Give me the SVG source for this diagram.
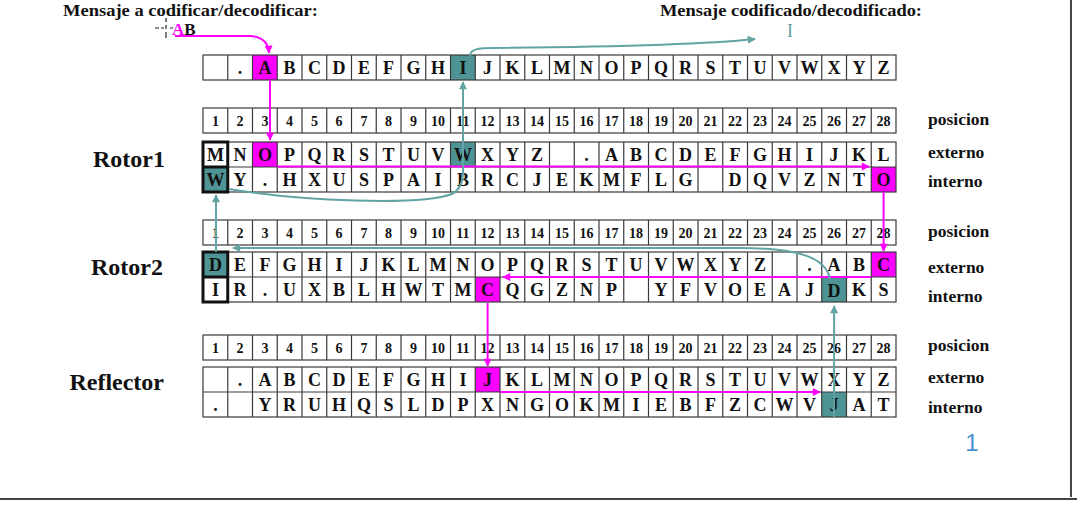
<svg xmlns="http://www.w3.org/2000/svg" width="1077" height="508" viewBox="0 0 1077 508">
<style>
.c{font-family:"Liberation Serif","Times New Roman",serif;font-weight:bold;font-size:18px;text-anchor:middle;fill:#111}
.n{font-family:"Liberation Serif","Times New Roman",serif;font-weight:bold;font-size:14px;text-anchor:middle;fill:#111}
.lab{font-family:"Liberation Serif","Times New Roman",serif;font-weight:bold;font-size:17.5px;fill:#111}
.ttl{font-family:"Liberation Serif","Times New Roman",serif;font-weight:bold;font-size:17px;fill:#111}
.big{font-family:"Liberation Serif","Times New Roman",serif;font-weight:bold;font-size:24px;fill:#111;text-anchor:end}
.grid{fill:none;stroke:#3a3a3a;stroke-width:1.2}
.thick{fill:none;stroke:#111;stroke-width:3}
.mg{fill:#ff00ff}
.tl{fill:#4f9494}
.cm{fill:none;stroke:#ff00ff;stroke-width:2;marker-end:url(#am)}
.ct{fill:none;stroke:#62a3a3;stroke-width:2;marker-end:url(#at)}
</style>
<defs>
<marker id="am" viewBox="0 0 10 10" refX="9" refY="5" markerWidth="9" markerHeight="8" markerUnits="userSpaceOnUse" orient="auto"><path d="M0 0L10 5L0 10z" fill="#ff00ff"/></marker>
<marker id="at" viewBox="0 0 10 10" refX="9" refY="5" markerWidth="9" markerHeight="8" markerUnits="userSpaceOnUse" orient="auto"><path d="M0 0L10 5L0 10z" fill="#62a3a3"/></marker>
</defs>
<rect width="1077" height="508" fill="#fff"/>

<g id="titles">
<text class="ttl" x="63" y="15.5" textLength="255" lengthAdjust="spacingAndGlyphs">Mensaje a codificar/decodificar:</text>
<text class="ttl" x="172" y="34.5" font-size="16"><tspan fill="#ff00ff">A</tspan>B</text>
<path d="M166 18v4M166 25v4M166 32v6M155 28h4M161 28h3M170 28h3" stroke="#222" stroke-width="1.2" fill="none"/>
<text class="ttl" x="660" y="15.5" textLength="262" lengthAdjust="spacingAndGlyphs">Mensaje codificado/decodificado:</text>
<text x="787" y="37" font-family="Liberation Serif, serif" font-size="18" fill="#62a3a3">I</text>
</g>

<g id="alphabet" transform="translate(0,55)">
<rect class="mg" x="252.5" y="0" width="24.75" height="25"/>
<rect class="tl" x="450.5" y="0" width="24.75" height="25"/>
<rect class="grid" x="203" y="0" width="693" height="25"/>
<path class="grid" d="M227.75 0v25m24.75-25v25m24.75-25v25m24.75-25v25m24.75-25v25m24.75-25v25m24.75-25v25m24.75-25v25m24.75-25v25m24.75-25v25m24.75-25v25m24.75-25v25m24.75-25v25m24.75-25v25m24.75-25v25m24.75-25v25m24.75-25v25m24.75-25v25m24.75-25v25m24.75-25v25m24.75-25v25m24.75-25v25m24.75-25v25m24.75-25v25m24.75-25v25m24.75-25v25m24.75-25v25"/>
<text class="c" x="240.1" y="19">.</text><text class="c" x="264.9" y="19">A</text><text class="c" x="289.6" y="19">B</text><text class="c" x="314.4" y="19">C</text><text class="c" x="339.1" y="19">D</text><text class="c" x="363.9" y="19">E</text><text class="c" x="388.6" y="19">F</text><text class="c" x="413.4" y="19">G</text><text class="c" x="438.1" y="19">H</text><text class="c" x="462.9" y="19">I</text><text class="c" x="487.6" y="19">J</text><text class="c" x="512.4" y="19">K</text><text class="c" x="537.1" y="19">L</text><text class="c" x="561.9" y="19">M</text><text class="c" x="586.6" y="19">N</text><text class="c" x="611.4" y="19">O</text><text class="c" x="636.1" y="19">P</text><text class="c" x="660.9" y="19">Q</text><text class="c" x="685.6" y="19">R</text><text class="c" x="710.4" y="19">S</text><text class="c" x="735.1" y="19">T</text><text class="c" x="759.9" y="19">U</text><text class="c" x="784.6" y="19">V</text><text class="c" x="809.4" y="19">W</text><text class="c" x="834.1" y="19">X</text><text class="c" x="858.9" y="19">Y</text><text class="c" x="883.6" y="19">Z</text>
</g>

<g id="rotor1">
<text class="big" x="165" y="167">Rotor1</text>
<g transform="translate(0,108)">
<rect class="grid" x="203" y="0" width="693" height="25"/>
<path class="grid" d="M227.75 0v25m24.75-25v25m24.75-25v25m24.75-25v25m24.75-25v25m24.75-25v25m24.75-25v25m24.75-25v25m24.75-25v25m24.75-25v25m24.75-25v25m24.75-25v25m24.75-25v25m24.75-25v25m24.75-25v25m24.75-25v25m24.75-25v25m24.75-25v25m24.75-25v25m24.75-25v25m24.75-25v25m24.75-25v25m24.75-25v25m24.75-25v25m24.75-25v25m24.75-25v25m24.75-25v25"/>
<text class="n" x="215.4" y="18">1</text><text class="n" x="240.1" y="18">2</text><text class="n" x="264.9" y="18">3</text><text class="n" x="289.6" y="18">4</text><text class="n" x="314.4" y="18">5</text><text class="n" x="339.1" y="18">6</text><text class="n" x="363.9" y="18">7</text><text class="n" x="388.6" y="18">8</text><text class="n" x="413.4" y="18">9</text><text class="n" x="438.1" y="18">10</text><text class="n" x="462.9" y="18">11</text><text class="n" x="487.6" y="18">12</text><text class="n" x="512.4" y="18">13</text><text class="n" x="537.1" y="18">14</text><text class="n" x="561.9" y="18">15</text><text class="n" x="586.6" y="18">16</text><text class="n" x="611.4" y="18">17</text><text class="n" x="636.1" y="18">18</text><text class="n" x="660.9" y="18">19</text><text class="n" x="685.6" y="18">20</text><text class="n" x="710.4" y="18">21</text><text class="n" x="735.1" y="18">22</text><text class="n" x="759.9" y="18">23</text><text class="n" x="784.6" y="18">24</text><text class="n" x="809.4" y="18">25</text><text class="n" x="834.1" y="18">26</text><text class="n" x="858.9" y="18">27</text><text class="n" x="883.6" y="18">28</text>
</g>
<g transform="translate(0,142)">
<rect class="mg" x="252.5" y="0" width="24.75" height="25"/>
<rect class="tl" x="450.5" y="0" width="24.75" height="25"/>
<rect class="tl" x="203" y="25" width="24.75" height="25"/>
<rect class="mg" x="871.25" y="25" width="24.75" height="25"/>
<rect class="grid" x="203" y="0" width="693" height="50"/>
<path class="grid" d="M203 25h693M227.75 0v50m24.75-50v50m24.75-50v50m24.75-50v50m24.75-50v50m24.75-50v50m24.75-50v50m24.75-50v50m24.75-50v50m24.75-50v50m24.75-50v50m24.75-50v50m24.75-50v50m24.75-50v50m24.75-50v50m24.75-50v50m24.75-50v50m24.75-50v50m24.75-50v50m24.75-50v50m24.75-50v50m24.75-50v50m24.75-50v50m24.75-50v50m24.75-50v50m24.75-50v50m24.75-50v50"/>
<path class="thick" d="M203 0h24.75v50h-24.75zM203 25h24.75"/>
<text class="c" x="215.4" y="19">M</text><text class="c" x="240.1" y="19">N</text><text class="c" x="264.9" y="19">O</text><text class="c" x="289.6" y="19">P</text><text class="c" x="314.4" y="19">Q</text><text class="c" x="339.1" y="19">R</text><text class="c" x="363.9" y="19">S</text><text class="c" x="388.6" y="19">T</text><text class="c" x="413.4" y="19">U</text><text class="c" x="438.1" y="19">V</text><text class="c" x="462.9" y="19">W</text><text class="c" x="487.6" y="19">X</text><text class="c" x="512.4" y="19">Y</text><text class="c" x="537.1" y="19">Z</text><text class="c" x="586.6" y="19">.</text><text class="c" x="611.4" y="19">A</text><text class="c" x="636.1" y="19">B</text><text class="c" x="660.9" y="19">C</text><text class="c" x="685.6" y="19">D</text><text class="c" x="710.4" y="19">E</text><text class="c" x="735.1" y="19">F</text><text class="c" x="759.9" y="19">G</text><text class="c" x="784.6" y="19">H</text><text class="c" x="809.4" y="19">I</text><text class="c" x="834.1" y="19">J</text><text class="c" x="858.9" y="19">K</text><text class="c" x="883.6" y="19">L</text>
<text class="c" x="215.4" y="44">W</text><text class="c" x="240.1" y="44">Y</text><text class="c" x="264.9" y="44">.</text><text class="c" x="289.6" y="44">H</text><text class="c" x="314.4" y="44">X</text><text class="c" x="339.1" y="44">U</text><text class="c" x="363.9" y="44">S</text><text class="c" x="388.6" y="44">P</text><text class="c" x="413.4" y="44">A</text><text class="c" x="438.1" y="44">I</text><text class="c" x="462.9" y="44">B</text><text class="c" x="487.6" y="44">R</text><text class="c" x="512.4" y="44">C</text><text class="c" x="537.1" y="44">J</text><text class="c" x="561.9" y="44">E</text><text class="c" x="586.6" y="44">K</text><text class="c" x="611.4" y="44">M</text><text class="c" x="636.1" y="44">F</text><text class="c" x="660.9" y="44">L</text><text class="c" x="685.6" y="44">G</text><text class="c" x="735.1" y="44">D</text><text class="c" x="759.9" y="44">Q</text><text class="c" x="784.6" y="44">V</text><text class="c" x="809.4" y="44">Z</text><text class="c" x="834.1" y="44">N</text><text class="c" x="858.9" y="44">T</text><text class="c" x="883.6" y="44">O</text>
</g>
<text class="lab" x="928" y="125">posicion</text>
<text class="lab" x="928" y="158">externo</text>
<text class="lab" x="928" y="187">interno</text>
</g>

<g id="rotor2">
<text class="big" x="163" y="275">Rotor2</text>
<g transform="translate(0,220)">
<rect class="grid" x="203" y="0" width="693" height="25"/>
<path class="grid" d="M227.75 0v25m24.75-25v25m24.75-25v25m24.75-25v25m24.75-25v25m24.75-25v25m24.75-25v25m24.75-25v25m24.75-25v25m24.75-25v25m24.75-25v25m24.75-25v25m24.75-25v25m24.75-25v25m24.75-25v25m24.75-25v25m24.75-25v25m24.75-25v25m24.75-25v25m24.75-25v25m24.75-25v25m24.75-25v25m24.75-25v25m24.75-25v25m24.75-25v25m24.75-25v25m24.75-25v25"/>
<text class="n" x="215.4" y="18">1</text><text class="n" x="240.1" y="18">2</text><text class="n" x="264.9" y="18">3</text><text class="n" x="289.6" y="18">4</text><text class="n" x="314.4" y="18">5</text><text class="n" x="339.1" y="18">6</text><text class="n" x="363.9" y="18">7</text><text class="n" x="388.6" y="18">8</text><text class="n" x="413.4" y="18">9</text><text class="n" x="438.1" y="18">10</text><text class="n" x="462.9" y="18">11</text><text class="n" x="487.6" y="18">12</text><text class="n" x="512.4" y="18">13</text><text class="n" x="537.1" y="18">14</text><text class="n" x="561.9" y="18">15</text><text class="n" x="586.6" y="18">16</text><text class="n" x="611.4" y="18">17</text><text class="n" x="636.1" y="18">18</text><text class="n" x="660.9" y="18">19</text><text class="n" x="685.6" y="18">20</text><text class="n" x="710.4" y="18">21</text><text class="n" x="735.1" y="18">22</text><text class="n" x="759.9" y="18">23</text><text class="n" x="784.6" y="18">24</text><text class="n" x="809.4" y="18">25</text><text class="n" x="834.1" y="18">26</text><text class="n" x="858.9" y="18">27</text><text class="n" x="883.6" y="18">28</text>
</g>
<g transform="translate(0,252)">
<rect class="tl" x="203" y="0" width="24.75" height="25"/>
<rect class="mg" x="871.25" y="0" width="24.75" height="25"/>
<rect class="mg" x="475.25" y="25" width="24.75" height="25"/>
<rect class="tl" x="821.75" y="25" width="24.75" height="25"/>
<rect class="grid" x="203" y="0" width="693" height="50"/>
<path class="grid" d="M203 25h693M227.75 0v50m24.75-50v50m24.75-50v50m24.75-50v50m24.75-50v50m24.75-50v50m24.75-50v50m24.75-50v50m24.75-50v50m24.75-50v50m24.75-50v50m24.75-50v50m24.75-50v50m24.75-50v50m24.75-50v50m24.75-50v50m24.75-50v50m24.75-50v50m24.75-50v50m24.75-50v50m24.75-50v50m24.75-50v50m24.75-50v50m24.75-50v50m24.75-50v50m24.75-50v50m24.75-50v50"/>
<path class="thick" d="M203 0h24.75v50h-24.75zM203 25h24.75"/>
<text class="c" x="215.4" y="19">D</text><text class="c" x="240.1" y="19">E</text><text class="c" x="264.9" y="19">F</text><text class="c" x="289.6" y="19">G</text><text class="c" x="314.4" y="19">H</text><text class="c" x="339.1" y="19">I</text><text class="c" x="363.9" y="19">J</text><text class="c" x="388.6" y="19">K</text><text class="c" x="413.4" y="19">L</text><text class="c" x="438.1" y="19">M</text><text class="c" x="462.9" y="19">N</text><text class="c" x="487.6" y="19">O</text><text class="c" x="512.4" y="19">P</text><text class="c" x="537.1" y="19">Q</text><text class="c" x="561.9" y="19">R</text><text class="c" x="586.6" y="19">S</text><text class="c" x="611.4" y="19">T</text><text class="c" x="636.1" y="19">U</text><text class="c" x="660.9" y="19">V</text><text class="c" x="685.6" y="19">W</text><text class="c" x="710.4" y="19">X</text><text class="c" x="735.1" y="19">Y</text><text class="c" x="759.9" y="19">Z</text><text class="c" x="809.4" y="19">.</text><text class="c" x="834.1" y="19">A</text><text class="c" x="858.9" y="19">B</text><text class="c" x="883.6" y="19">C</text>
<text class="c" x="215.4" y="44">I</text><text class="c" x="240.1" y="44">R</text><text class="c" x="264.9" y="44">.</text><text class="c" x="289.6" y="44">U</text><text class="c" x="314.4" y="44">X</text><text class="c" x="339.1" y="44">B</text><text class="c" x="363.9" y="44">L</text><text class="c" x="388.6" y="44">H</text><text class="c" x="413.4" y="44">W</text><text class="c" x="438.1" y="44">T</text><text class="c" x="462.9" y="44">M</text><text class="c" x="487.6" y="44">C</text><text class="c" x="512.4" y="44">Q</text><text class="c" x="537.1" y="44">G</text><text class="c" x="561.9" y="44">Z</text><text class="c" x="586.6" y="44">N</text><text class="c" x="611.4" y="44">P</text><text class="c" x="660.9" y="44">Y</text><text class="c" x="685.6" y="44">F</text><text class="c" x="710.4" y="44">V</text><text class="c" x="735.1" y="44">O</text><text class="c" x="759.9" y="44">E</text><text class="c" x="784.6" y="44">A</text><text class="c" x="809.4" y="44">J</text><text class="c" x="834.1" y="45">D</text><text class="c" x="858.9" y="44">K</text><text class="c" x="883.6" y="44">S</text>
</g>
<text class="lab" x="928" y="237">posicion</text>
<text class="lab" x="928" y="273">externo</text>
<text class="lab" x="928" y="302">interno</text>
</g>

<g id="reflector">
<text class="big" x="164" y="390">Reflector</text>
<g transform="translate(0,335)">
<rect class="grid" x="203" y="0" width="693" height="25"/>
<path class="grid" d="M227.75 0v25m24.75-25v25m24.75-25v25m24.75-25v25m24.75-25v25m24.75-25v25m24.75-25v25m24.75-25v25m24.75-25v25m24.75-25v25m24.75-25v25m24.75-25v25m24.75-25v25m24.75-25v25m24.75-25v25m24.75-25v25m24.75-25v25m24.75-25v25m24.75-25v25m24.75-25v25m24.75-25v25m24.75-25v25m24.75-25v25m24.75-25v25m24.75-25v25m24.75-25v25m24.75-25v25"/>
<text class="n" x="215.4" y="18">1</text><text class="n" x="240.1" y="18">2</text><text class="n" x="264.9" y="18">3</text><text class="n" x="289.6" y="18">4</text><text class="n" x="314.4" y="18">5</text><text class="n" x="339.1" y="18">6</text><text class="n" x="363.9" y="18">7</text><text class="n" x="388.6" y="18">8</text><text class="n" x="413.4" y="18">9</text><text class="n" x="438.1" y="18">10</text><text class="n" x="462.9" y="18">11</text><text class="n" x="487.6" y="18">12</text><text class="n" x="512.4" y="18">13</text><text class="n" x="537.1" y="18">14</text><text class="n" x="561.9" y="18">15</text><text class="n" x="586.6" y="18">16</text><text class="n" x="611.4" y="18">17</text><text class="n" x="636.1" y="18">18</text><text class="n" x="660.9" y="18">19</text><text class="n" x="685.6" y="18">20</text><text class="n" x="710.4" y="18">21</text><text class="n" x="735.1" y="18">22</text><text class="n" x="759.9" y="18">23</text><text class="n" x="784.6" y="18">24</text><text class="n" x="809.4" y="18">25</text><text class="n" x="834.1" y="18">26</text><text class="n" x="858.9" y="18">27</text><text class="n" x="883.6" y="18">28</text>
</g>
<g transform="translate(0,367)">
<rect class="mg" x="475.25" y="0" width="24.75" height="25"/>
<rect class="tl" x="821.75" y="25" width="24.75" height="25"/>
<rect class="grid" x="203" y="0" width="693" height="50"/>
<path class="grid" d="M203 25h693M227.75 0v50m24.75-50v50m24.75-50v50m24.75-50v50m24.75-50v50m24.75-50v50m24.75-50v50m24.75-50v50m24.75-50v50m24.75-50v50m24.75-50v50m24.75-50v50m24.75-50v50m24.75-50v50m24.75-50v50m24.75-50v50m24.75-50v50m24.75-50v50m24.75-50v50m24.75-50v50m24.75-50v50m24.75-50v50m24.75-50v50m24.75-50v50m24.75-50v50m24.75-50v50m24.75-50v50"/>
<text class="c" x="240.1" y="19">.</text><text class="c" x="264.9" y="19">A</text><text class="c" x="289.6" y="19">B</text><text class="c" x="314.4" y="19">C</text><text class="c" x="339.1" y="19">D</text><text class="c" x="363.9" y="19">E</text><text class="c" x="388.6" y="19">F</text><text class="c" x="413.4" y="19">G</text><text class="c" x="438.1" y="19">H</text><text class="c" x="462.9" y="19">I</text><text class="c" x="487.6" y="19">J</text><text class="c" x="512.4" y="19">K</text><text class="c" x="537.1" y="19">L</text><text class="c" x="561.9" y="19">M</text><text class="c" x="586.6" y="19">N</text><text class="c" x="611.4" y="19">O</text><text class="c" x="636.1" y="19">P</text><text class="c" x="660.9" y="19">Q</text><text class="c" x="685.6" y="19">R</text><text class="c" x="710.4" y="19">S</text><text class="c" x="735.1" y="19">T</text><text class="c" x="759.9" y="19">U</text><text class="c" x="784.6" y="19">V</text><text class="c" x="809.4" y="19">W</text><text class="c" x="834.1" y="19">X</text><text class="c" x="858.9" y="19">Y</text><text class="c" x="883.6" y="19">Z</text>
<text class="c" x="215.4" y="44">.</text><text class="c" x="264.9" y="44">Y</text><text class="c" x="289.6" y="44">R</text><text class="c" x="314.4" y="44">U</text><text class="c" x="339.1" y="44">H</text><text class="c" x="363.9" y="44">Q</text><text class="c" x="388.6" y="44">S</text><text class="c" x="413.4" y="44">L</text><text class="c" x="438.1" y="44">D</text><text class="c" x="462.9" y="44">P</text><text class="c" x="487.6" y="44">X</text><text class="c" x="512.4" y="44">N</text><text class="c" x="537.1" y="44">G</text><text class="c" x="561.9" y="44">O</text><text class="c" x="586.6" y="44">K</text><text class="c" x="611.4" y="44">M</text><text class="c" x="636.1" y="44">I</text><text class="c" x="660.9" y="44">E</text><text class="c" x="685.6" y="44">B</text><text class="c" x="710.4" y="44">F</text><text class="c" x="735.1" y="44">Z</text><text class="c" x="759.9" y="44">C</text><text class="c" x="784.6" y="44">W</text><text class="c" x="809.4" y="44">V</text><text class="c" x="834.1" y="44">J</text><text class="c" x="858.9" y="44">A</text><text class="c" x="883.6" y="44">T</text>
</g>
<text class="lab" x="928" y="351">posicion</text>
<text class="lab" x="928" y="383">externo</text>
<text class="lab" x="928" y="413">interno</text>
</g>

<g id="connectors">
<path class="cm" d="M175 36H250Q268 37 269 53"/>
<path class="cm" d="M270 80V140"/>
<path class="cm" d="M277 166.5H869"/>
<path class="cm" d="M883.6 192V251"/>
<path class="cm" d="M871 277H503"/>
<path class="cm" d="M487.6 303V366"/>
<path class="cm" d="M500 392H820"/>
<path class="ct" d="M834.1 417V306"/>
<path class="ct" d="M830 279C826 258 800 248 740 248H233"/>
<path class="ct" d="M216 252V195"/>
<path class="ct" d="M229 189C300 201 420 206 452 194Q463 188 463 172V82"/>
<path class="ct" d="M470 56C470 49 478 48 495 48C600 47 700 45 755 39"/>
</g>

<text x="972" y="451" font-family="Liberation Sans, Arial, sans-serif" font-size="24" fill="#4a8fd6" text-anchor="middle">1</text>
<path d="M1071 0V497M0 499H1077" stroke="#444" stroke-width="2" fill="none"/>
</svg>
